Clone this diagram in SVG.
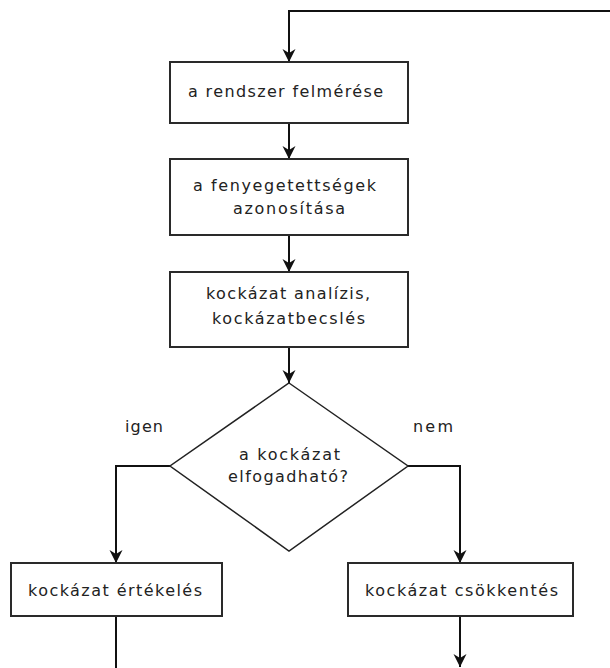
<svg xmlns="http://www.w3.org/2000/svg" width="610" height="668" viewBox="0 0 610 668">
<style>
.box{fill:#fff;stroke:#2a2a2a;stroke-width:2}
.dia{fill:#fff;stroke:#222;stroke-width:1.5}
.t{font-family:"DejaVu Sans","Noto Sans",sans-serif;font-size:16px;fill:#222}
.c{fill:none;stroke:#111;stroke-width:2}
.ca{fill:none;stroke:#111;stroke-width:2;marker-end:url(#ah)}
</style>
<defs>
<marker id="ah" markerUnits="userSpaceOnUse" markerWidth="14" markerHeight="14" viewBox="-13 -7 14 14" refX="0" refY="0" orient="auto">
<path d="M0,0 L-13,-6.5 L-9,0 L-13,6.5 Z" fill="#111"/>
</marker>
</defs>
<rect width="610" height="668" fill="#fff"/>
<g id="connectors">
<path class="ca" d="M610,11 H289 V62"/>
<path class="ca" d="M289,123 V159"/>
<path class="ca" d="M289,235 V272"/>
<path class="ca" d="M289,347 V383"/>
<path class="ca" d="M170,466 H116 V563"/>
<path class="ca" d="M408,466 H460 V563"/>
<path class="c" d="M116,616 V668"/>
<path class="ca" d="M460,616 V667"/>
</g>
<g id="n1">
<rect class="box" x="170" y="62" width="238" height="61"/>
<text class="t" x="188" y="97" textLength="195" lengthAdjust="spacing">a rendszer felmérése</text>
</g>
<g id="n2">
<rect class="box" x="170" y="159" width="238" height="76"/>
<text class="t" x="193" y="190.5" textLength="183" lengthAdjust="spacing">a fenyegetettségek</text>
<text class="t" x="233" y="213.5" textLength="112" lengthAdjust="spacing">azonosítása</text>
</g>
<g id="n3">
<rect class="box" x="170" y="272" width="238" height="75"/>
<text class="t" x="206" y="299" textLength="164" lengthAdjust="spacing">kockázat analízis,</text>
<text class="t" x="212" y="323.5" textLength="153" lengthAdjust="spacing">kockázatbecslés</text>
</g>
<g id="n4">
<polygon class="dia" points="289,383 408,466 289,551 170,466"/>
<text class="t" x="239" y="459.5" textLength="101" lengthAdjust="spacing">a kockázat</text>
<text class="t" x="228" y="481.5" textLength="120" lengthAdjust="spacing">elfogadható?</text>
</g>
<g id="l1">
<text class="t" x="125" y="431.5" textLength="38" lengthAdjust="spacing">igen</text>
</g>
<g id="l2">
<text class="t" x="413" y="431.5" textLength="40" lengthAdjust="spacing">nem</text>
</g>
<g id="n5">
<rect class="box" x="11" y="563" width="211" height="53"/>
<text class="t" x="28" y="595.5" textLength="174" lengthAdjust="spacing">kockázat értékelés</text>
</g>
<g id="n6">
<rect class="box" x="348" y="563" width="225" height="53"/>
<text class="t" x="365" y="595.5" textLength="193" lengthAdjust="spacing">kockázat csökkentés</text>
</g>
</svg>
